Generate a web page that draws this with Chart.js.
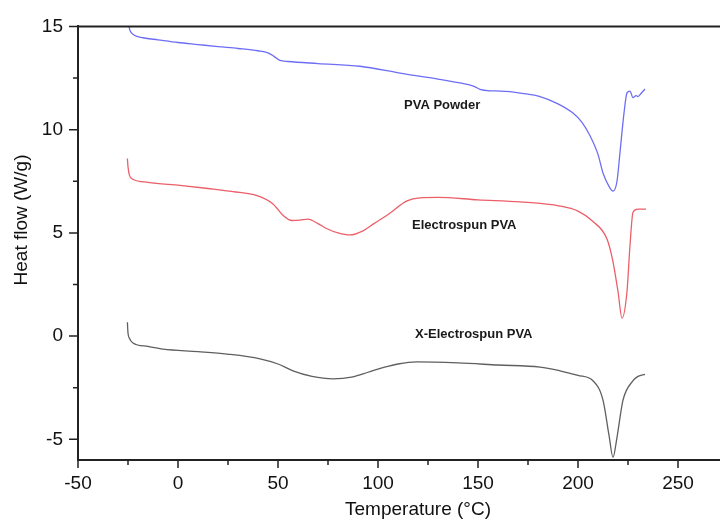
<!DOCTYPE html>
<html>
<head>
<meta charset="utf-8">
<title>DSC curves</title>
<script src="https://cdn.jsdelivr.net/npm/chart.js@4/dist/chart.umd.min.js"></script>
<style>
  html, body { margin: 0; padding: 0; background: #fff; }
  #wrap { width: 720px; height: 523px; position: relative; }
</style>
</head>
<body>
<div id="wrap"><canvas id="dscChart"></canvas></div>
<script>
// PVA Powder
const powderT = [-24.5, -24, -22, -17.5, -10, 0, 10, 20, 30, 40, 45, 48, 51, 55, 70, 91, 111, 130, 141, 148, 151, 156, 161, 166, 172, 181, 190, 197.5, 202, 206, 210, 212.5, 215.5, 217.5, 219.5, 221, 223, 224.5, 226, 227.5, 229, 230, 231.5, 233.5];
const powderHF = [15.0, 14.8, 14.58, 14.45, 14.35, 14.22, 14.12, 14.02, 13.93, 13.82, 13.72, 13.55, 13.35, 13.3, 13.2, 13.07, 12.74, 12.45, 12.26, 12.1, 11.95, 11.88, 11.87, 11.84, 11.76, 11.6, 11.25, 10.8, 10.35, 9.7, 8.8, 7.9, 7.25, 7.02, 7.5, 8.9, 10.8, 11.78, 11.87, 11.55, 11.65, 11.6, 11.75, 11.97];

// Electrospun PVA
const spunT = [-25.3, -25, -24.3, -22.5, -15, 1, 15, 27.5, 39.5, 47.5, 52.5, 57, 61, 65, 70, 74.5, 80, 86, 92.5, 98, 104.5, 114.5, 121, 130, 150, 171, 191, 200, 207.5, 214.5, 217.5, 220, 222, 224.5, 226, 227.5, 230, 234];
const spunHF = [8.6, 8.2, 7.8, 7.6, 7.45, 7.3, 7.15, 7.0, 6.8, 6.4, 5.85, 5.6, 5.62, 5.67, 5.45, 5.2, 5.0, 4.9, 5.1, 5.45, 5.85, 6.55, 6.7, 6.72, 6.6, 6.5, 6.3, 6.05, 5.55, 4.7, 3.6, 2.16, 0.87, 2.16, 4.4, 6.0, 6.15, 6.15];

// X-Electrospun PVA
const xspunT = [-25.3, -25, -24.3, -22.5, -15, -7.5, 10, 24.5, 41, 50, 57.5, 67, 77.5, 87.5, 95, 102.5, 110, 119.5, 140, 160, 181, 191, 200, 207.5, 212.5, 215.5, 217.5, 219.5, 222.5, 227.5, 230, 233.5];
const xspunHF = [0.67, 0.15, -0.1, -0.33, -0.5, -0.63, -0.75, -0.87, -1.1, -1.35, -1.68, -1.95, -2.07, -1.97, -1.75, -1.53, -1.35, -1.25, -1.3, -1.4, -1.5, -1.68, -1.9, -2.16, -3.1, -4.8, -5.87, -4.9, -3.1, -2.16, -1.95, -1.85];

// Curve labels (position in data units)
const curveNames = ["PVA Powder", "Electrospun PVA", "X-Electrospun PVA"];
const curveNameT = [113, 117, 118.5];
const curveNameHF = [11.15, 5.38, 0.1];

const xTicks = [-50, 0, 50, 100, 150, 200, 250];
const yTicks = [-5, 0, 5, 10, 15];

const FONT = "Arial, 'Liberation Sans', sans-serif";

function toPoints(xs, ys) {
  return xs.map((x, i) => ({ x: x, y: ys[i] }));
}

// Frame line on top, outward major/minor ticks and the axis titles
const decorations = {
  id: "decorations",
  afterDraw(chart) {
    const ctx = chart.ctx;
    const area = chart.chartArea;
    const xs = chart.scales.x;
    const ys = chart.scales.y;
    ctx.save();
    ctx.strokeStyle = "#222";
    ctx.lineWidth = 2;
    ctx.beginPath();
    ctx.moveTo(area.left, area.top);
    ctx.lineTo(area.right, area.top);
    ctx.stroke();

    ctx.lineWidth = 1.5;
    ctx.beginPath();
    for (let v = -50; v <= xs.max; v += 25) {
      const px = xs.getPixelForValue(v);
      const len = v % 50 === 0 ? 8 : 5;
      ctx.moveTo(px, area.bottom);
      ctx.lineTo(px, area.bottom + len);
    }
    for (let v = -5; v <= ys.max; v += 2.5) {
      const py = ys.getPixelForValue(v);
      const len = v % 5 === 0 ? 9 : 5;
      ctx.moveTo(area.left, py);
      ctx.lineTo(area.left - len, py);
    }
    ctx.stroke();

    ctx.fillStyle = "#111";
    ctx.font = "19px " + FONT;
    ctx.textAlign = "center";
    ctx.textBaseline = "middle";
    ctx.fillText("Temperature (°C)", 418, 510);
    ctx.save();
    ctx.translate(22, 220);
    ctx.rotate(-Math.PI / 2);
    ctx.fillText("Heat flow (W/g)", 0, 0);
    ctx.restore();

    ctx.font = "bold 13px " + FONT;
    ctx.textAlign = "left";
    ctx.fillStyle = "#1a1a1a";
    curveNames.forEach((name, i) => {
      ctx.fillText(name, xs.getPixelForValue(curveNameT[i]), ys.getPixelForValue(curveNameHF[i]));
    });
    ctx.restore();
  }
};

const ctx = document.getElementById("dscChart").getContext("2d");

const chart = new Chart(ctx, {
  type: "line",
  data: {
    datasets: [
      {
        label: curveNames[0],
        data: toPoints(powderT, powderHF),
        borderColor: "rgb(110, 110, 245)",
        borderWidth: 1.3,
      },
      {
        label: curveNames[1],
        data: toPoints(spunT, spunHF),
        borderColor: "rgb(235, 95, 105)",
        borderWidth: 1.3,
      },
      {
        label: curveNames[2],
        data: toPoints(xspunT, xspunHF),
        borderColor: "rgb(95, 95, 95)",
        borderWidth: 1.3,
      },
    ],
  },
  options: {
    responsive: true,
    maintainAspectRatio: false,
    animation: false,
    devicePixelRatio: 1,
    layout: { padding: { top: 23, right: 0, left: 0, bottom: 0 } },
    elements: {
      point: { radius: 0 },
      line: { cubicInterpolationMode: "monotone", fill: false },
    },
    plugins: {
      legend: { display: false },
      tooltip: { enabled: false },
    },
    scales: {
      x: {
        type: "linear",
        min: -50,
        max: 271,
        afterFit: (scale) => { scale.height = 63; },
        afterBuildTicks: (scale) => { scale.ticks = xTicks.map((v) => ({ value: v })); },
        grid: { display: false, drawTicks: false },
        border: { display: true, color: "#222", width: 2 },
        ticks: {
          color: "#111",
          font: { family: FONT, size: 19 },
          padding: 12,
          maxRotation: 0,
        },
      },
      y: {
        type: "linear",
        min: -6,
        max: 15,
        afterFit: (scale) => { scale.width = 78; },
        afterBuildTicks: (scale) => { scale.ticks = yTicks.map((v) => ({ value: v })); },
        grid: { display: false, drawTicks: false },
        border: { display: true, color: "#222", width: 2 },
        ticks: {
          color: "#111",
          font: { family: FONT, size: 19 },
          padding: 15,
        },
      },
    },
  },
  plugins: [decorations],
});
</script>
</body>
</html>
